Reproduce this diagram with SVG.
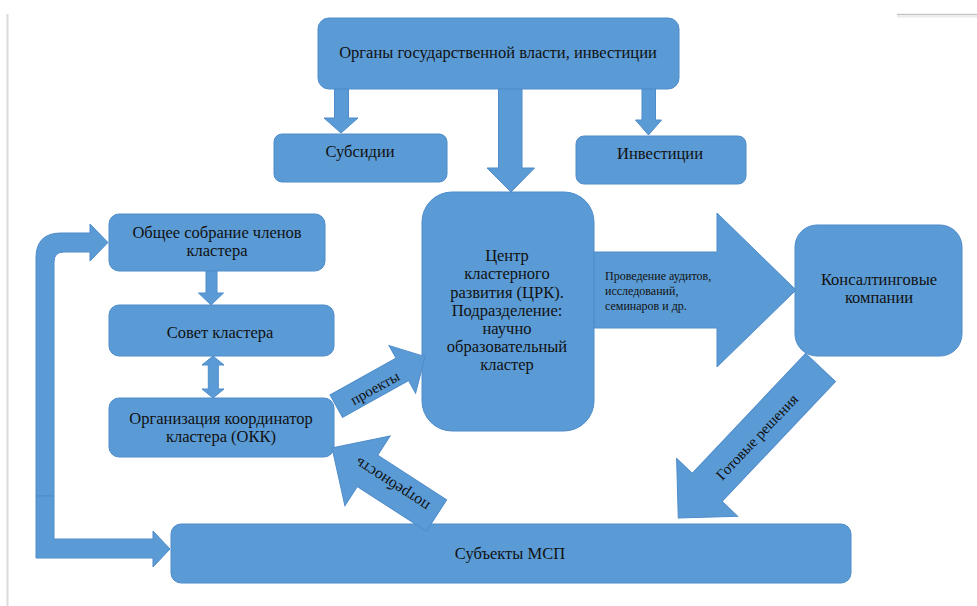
<svg xmlns="http://www.w3.org/2000/svg" width="977" height="606" viewBox="0 0 977 606">
<style>
.box{fill:#5b9bd5;stroke:#4f8ccb;stroke-width:1}
.arr{fill:#5b9bd5;stroke:#4f8ccb;stroke-width:1;stroke-linejoin:miter}
text{font-family:"Liberation Serif","Times New Roman",serif;fill:#111;font-size:16.5px}
.c{text-anchor:middle}
.s{font-size:12px}
.r{text-anchor:middle;dominant-baseline:central}
</style>
<rect x="0" y="0" width="977" height="606" fill="#fff"/>
<line x1="7.5" y1="14" x2="7.5" y2="606" stroke="#dcdcdc" stroke-width="2"/>
<line x1="897" y1="14.5" x2="977" y2="14.5" stroke="#c4c4c4" stroke-width="1.5"/>
<line x1="897" y1="16.5" x2="977" y2="16.5" stroke="#ececec" stroke-width="2"/>

<g id="gov"><rect class="box" x="318" y="18" width="361" height="71" rx="11"/><text class="c" x="498" y="58">Органы государственной власти, инвестиции</text></g>
<g id="subsidies"><rect class="box" x="274" y="134" width="173" height="48" rx="8"/><text class="c" x="360" y="157">Субсидии</text></g>
<g id="investments"><rect class="box" x="576" y="136" width="170" height="48" rx="8"/><text class="c" x="660" y="159">Инвестиции</text></g>
<g id="assembly"><rect class="box" x="109" y="214" width="216" height="57" rx="10"/><text class="c" x="217" y="238">Общее собрание членов</text><text class="c" x="217" y="256">кластера</text></g>
<g id="council"><rect class="box" x="109" y="305" width="225" height="51" rx="10"/><text class="c" x="220" y="338">Совет кластера</text></g>
<g id="okk"><rect class="box" x="109" y="398" width="225" height="59" rx="10"/><text class="c" x="221" y="424">Организация координатор</text><text class="c" x="221" y="442">кластера (ОКК)</text></g>
<g id="crk"><rect class="box" x="422" y="192" width="172" height="239" rx="30"/>
<text class="c" x="507" y="261">Центр</text>
<text class="c" x="507" y="279">кластерного</text>
<text class="c" x="507" y="298">развития (ЦРК).</text>
<text class="c" x="507" y="316">Подразделение:</text>
<text class="c" x="507" y="334">научно</text>
<text class="c" x="507" y="352">образовательный</text>
<text class="c" x="507" y="370">кластер</text></g>
<g id="consulting"><rect class="box" x="795" y="225" width="167" height="131" rx="22"/><text class="c" x="879" y="285">Консалтинговые</text><text class="c" x="879" y="303">компании</text></g>
<g id="msp"><rect class="box" x="171" y="524" width="680" height="59" rx="10"/><text class="c" x="510" y="559">Субъекты МСП</text></g>

<g id="connectors">
<path class="arr" d="M334.5,89 L348.5,89 L348.5,118 L358,118 L341,133 L324,118 L334.5,118 Z"/>
<path class="arr" d="M498.5,89 L522,89 L522,168 L534.5,168 L511,192 L487,168 L498.5,168 Z"/>
<path class="arr" d="M642,89 L655.5,89 L655.5,120 L661.5,120 L648.5,135 L635.5,120 L642,120 Z"/>
<path class="arr" d="M206,271 L217,271 L217,293 L223.5,293 L211,305 L198.5,293 L206,293 Z"/>
<path class="arr" d="M213,356 L224,365 L218.3,365 L218.3,389 L224,389 L213,398 L202,389 L208.3,389 L208.3,365 L202,365 Z"/>
<path class="arr" d="M36,496 L36,258 Q36,233 61,233 L90,233 L90,224 L108,242.5 L90,261 L90,252 L64,252 Q54,252 54,262 L54,496 Z"/>
<path class="arr" d="M36,496 L54,496 L54,539 L153,539 L153,531 L170,549 L153,567 L153,558 L36,558 Z"/>
<path class="arr" d="M594,252 L717,252 L717,213 L796,290 L717,367 L717,328 L594,328 Z"/>
<text class="s" x="605" y="280">Проведение аудитов,</text>
<text class="s" x="605" y="295">исследований,</text>
<text class="s" x="605" y="310">семинаров и др.</text>
<path class="arr" transform="translate(336.3,406.2) rotate(-29.2)" d="M0,-12.85 L75.6,-12.85 L75.6,-27.3 L101.6,0 L75.6,27.3 L75.6,12.85 L0,12.85 Z"/>
<text class="r" style="font-size:15px" transform="translate(375,388) rotate(-29.2)">проекты</text>
<path class="arr" transform="translate(436.5,515.5) rotate(-147.1)" d="M0,-18.7 L82.2,-18.7 L82.2,-41.6 L124.4,0 L82.2,41.6 L82.2,18.7 L0,18.7 Z"/>
<text class="r" style="font-size:16px" transform="translate(392,485) rotate(-147.1)">потребность</text>
<path class="arr" transform="translate(820.5,367.5) rotate(133.4)" d="M0,-20.5 L165,-20.5 L165,-42 L207,0 L165,42 L165,20.5 L0,20.5 Z"/>
<text class="r" style="font-size:15px" transform="translate(757,437) rotate(-46.6)">Готовые решения</text>
</g>
</svg>
